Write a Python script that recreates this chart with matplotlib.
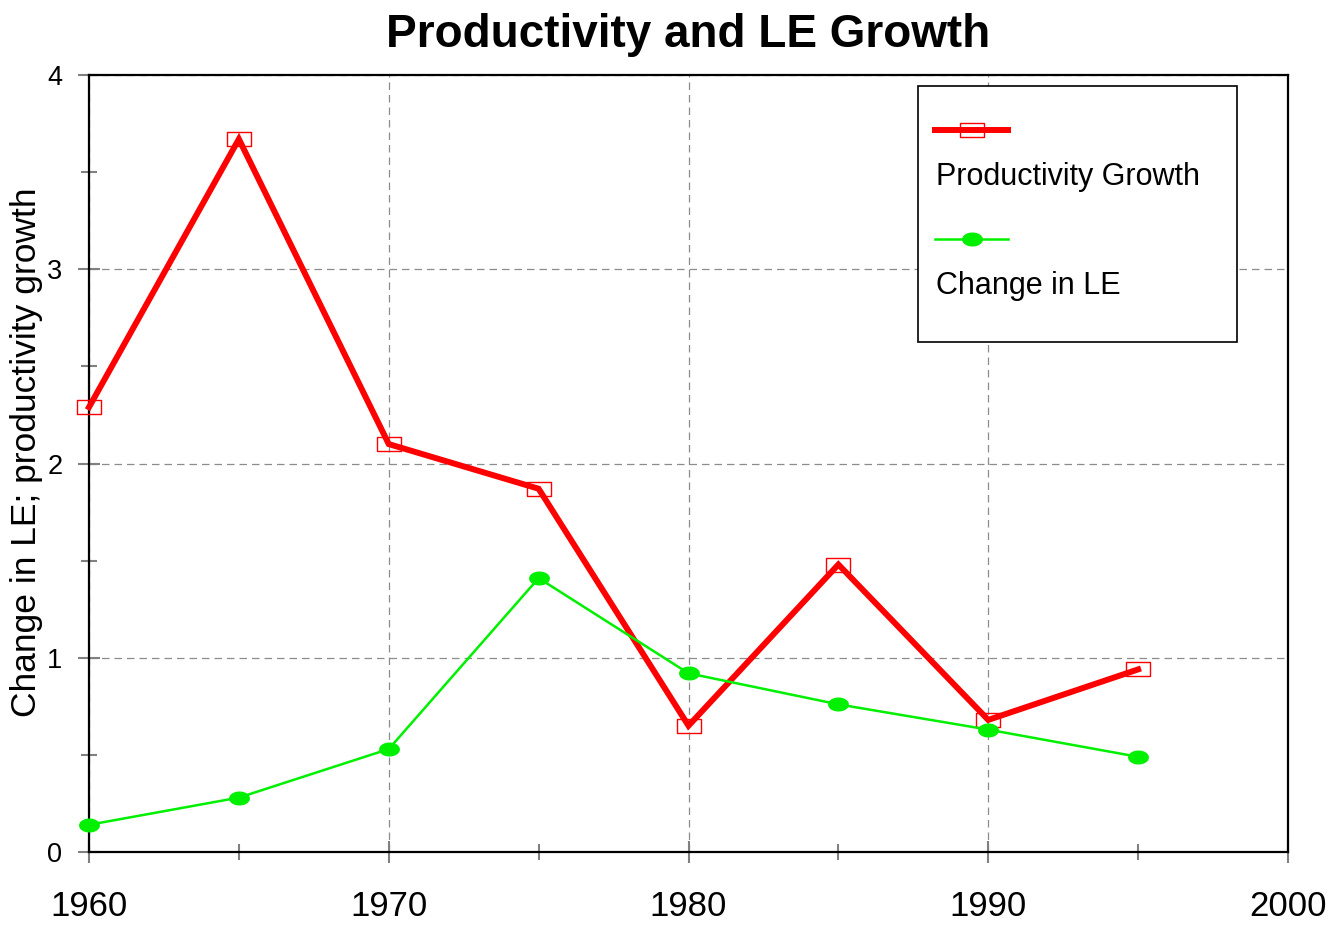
"""
Productivity growth vs change in life expectancy, 1960-1995.
"""
import numpy as np
import matplotlib
matplotlib.use('Agg')
import matplotlib.pyplot as plt
from matplotlib.path import Path
from matplotlib.lines import Line2D
from matplotlib.legend_handler import HandlerLine2D

plt.rcParams['font.family'] = ['Liberation Sans', 'DejaVu Sans']

years = [1960, 1965, 1970, 1975, 1980, 1985, 1990, 1995]
productivity = [2.29, 3.67, 2.10, 1.87, 0.65, 1.48, 0.68, 0.94]
le_change = [0.14, 0.28, 0.53, 1.41, 0.92, 0.76, 0.63, 0.49]

x_ticks = [1960, 1970, 1980, 1990, 2000]
y_ticks = [0, 1, 2, 3, 4]

# wide box and flat ellipse markers like the original
box = Path([(-1, -0.58), (1, -0.58), (1, 0.58), (-1, 0.58), (-1, -0.58)],
           [Path.MOVETO, Path.LINETO, Path.LINETO, Path.LINETO, Path.CLOSEPOLY])
t = np.linspace(0, 2 * np.pi, 40)
ellipse = Path(np.column_stack([np.cos(t), 0.65 * np.sin(t)]), closed=True)


class HandlerAbove(HandlerLine2D):
    # draw the line sample above the label text, starting at the text's left
    def create_artists(self, legend, orig_handle, xdescent, ydescent,
                       width, height, fontsize, trans):
        L = 2.4 * fontsize
        x0 = (legend.handletextpad - 0.03) * fontsize
        y = height / 2 - ydescent + 1.0 * fontsize
        line = Line2D([x0, x0 + L], [y, y])
        self.update_prop(line, orig_handle, legend)
        line.set_marker('')
        mk = Line2D([x0 + L / 2], [y])
        self.update_prop(mk, orig_handle, legend)
        mk.set_linestyle('')
        line.set_transform(trans)
        mk.set_transform(trans)
        return [line, mk]


fig = plt.figure(figsize=(13.34, 9.26), dpi=100)
ax = fig.add_axes([89 / 1334, 74 / 926, 1199 / 1334, 777 / 926])

ax.plot(years, productivity, color='#ff0000', lw=4.3, solid_joinstyle='miter',
        marker=box, ms=17, mfc='none', mec='#ff0000', mew=1.0,
        label='\nProductivity Growth', zorder=3, clip_on=False)
ax.plot(years, le_change, color='#00f000', lw=1.8,
        marker=ellipse, ms=14, mfc='#00f000', mec='#00f000',
        label='\nChange in LE', zorder=4, clip_on=False)

ax.set_xlim(1960, 2000)
ax.set_ylim(0, 4)
ax.set_xticks(x_ticks)
ax.set_yticks(y_ticks)
ax.set_xticks(np.arange(1965, 2000, 10), minor=True)
ax.set_yticks(np.arange(0.5, 4, 1), minor=True)
ax.tick_params(axis='both', which='major', direction='inout', length=16.5,
               width=1.5, color='#808080')
ax.tick_params(axis='both', which='minor', direction='inout', length=11,
               width=1.5, color='#808080')
ax.tick_params(axis='x', labelsize=25, pad=19)
ax.tick_params(axis='y', labelsize=19.5, pad=11)
ax.grid(True, which='major', color='#8c8c8c', ls=(0, (6, 4)), lw=0.9)
for s in ax.spines.values():
    s.set_linewidth(1.6)
    s.set_color('black')

ax.set_title('Productivity and LE Growth', fontsize=33, fontweight='bold', pad=20)
ax.set_ylabel('Change in LE; productivity growth', fontsize=25.5)
ax.yaxis.set_label_coords(-46 / 1199, 0.515)

leg = ax.legend(loc='upper left', mode='expand',
                bbox_to_anchor=((918 - 89) / 1199, 0, 319 / 1199, (852 - 86) / 777),
                handler_map={Line2D: HandlerAbove()},
                handlelength=0, handletextpad=-0.76, labelspacing=1.45,
                borderpad=1.35, borderaxespad=0, fontsize=22,
                fancybox=False, framealpha=1)
leg.get_frame().set_edgecolor('black')
leg.get_frame().set_linewidth(1.2)

plt.savefig('out.png', dpi=100)
